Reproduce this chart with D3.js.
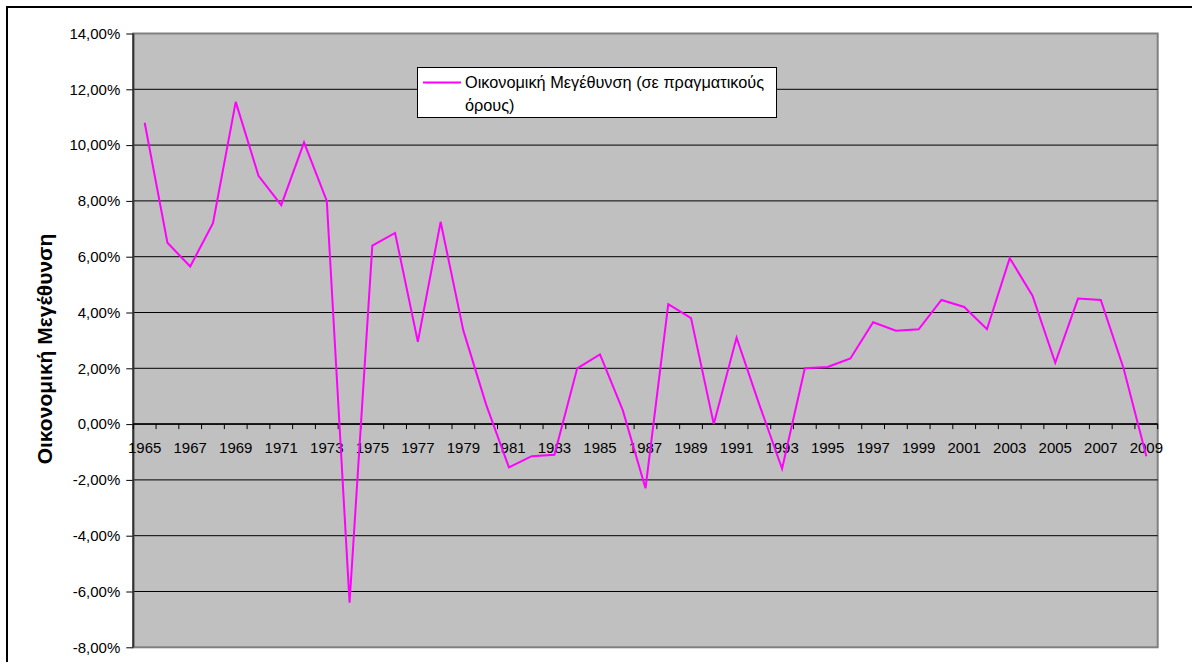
<!DOCTYPE html>
<html>
<head>
<meta charset="utf-8">
<script src="https://cdn.jsdelivr.net/npm/d3@7"></script>
<style>
  body { margin: 0; background: #fff; }
  svg { display: block; font-family: Arial, "Liberation Sans", sans-serif; }
  .axis path { display: none; }
  .axis text { font-size: 15px; fill: #000; }
</style>
</head>
<body>
<script>
// Years on the category axis
var years = d3.range(1965, 2010);

var growth = [10.8, 6.5, 5.65, 7.2, 11.55, 8.9, 7.85, 10.1, 8.0, -6.4,
  6.4, 6.85, 2.95, 7.25, 3.35, 0.7, -1.55, -1.15, -1.1, 2.0,
  2.5, 0.5, -2.3, 4.3, 3.8, 0.0, 3.1, 0.7, -1.6, 2.0,
  2.05, 2.35, 3.65, 3.35, 3.4, 4.45, 4.2, 3.4, 5.95, 4.6,
  2.2, 4.5, 4.45, 2.0, -1.15];

var yTicks = [14, 12, 10, 8, 6, 4, 2, 0, -2, -4, -6, -8];
var seriesName = "Οικονομική Μεγέθυνση (σε πραγματικούς όρους)";
var yTitle = "Οικονομική Μεγέθυνση";

var data = years.map(function(y, i) { return { year: y, value: growth[i] }; });

var W = 1192, H = 662;
var plot = { left: 133.3, right: 1157.7, top: 33.5, bottom: 647.3 };

var locale = d3.formatLocale({
  decimal: ",", thousands: ".", grouping: [3], currency: ["", "€"], minus: "-"
});
var fmt = locale.format(".2f");

var x = d3.scaleBand().domain(years).range([plot.left, plot.right]).padding(0);
var y = d3.scaleLinear().domain([-8, 14]).range([plot.bottom, plot.top]);

var svg = d3.select("body").append("svg")
  .attr("width", W)
  .attr("height", H);

// outer chart frame
svg.append("rect")
  .attr("x", 7).attr("y", 7)
  .attr("width", W + 20).attr("height", H + 20)
  .attr("fill", "#fff")
  .attr("stroke", "#000")
  .attr("stroke-width", 2);

// plot area
svg.append("rect")
  .attr("x", plot.left).attr("y", plot.top)
  .attr("width", plot.right - plot.left)
  .attr("height", plot.bottom - plot.top)
  .attr("fill", "#c0c0c0")
  .attr("stroke", "#808080")
  .attr("stroke-width", 2);

// gridlines
svg.append("g").selectAll("line")
  .data(yTicks.filter(function(t) { return t !== 14 && t !== -8; }))
  .enter().append("line")
  .attr("x1", plot.left).attr("x2", plot.right)
  .attr("y1", function(d) { return y(d); })
  .attr("y2", function(d) { return y(d); })
  .attr("stroke", "#000")
  .attr("stroke-width", 1);

// Y axis
var yAxis = d3.axisLeft(y)
  .tickValues(yTicks)
  .tickSize(7)
  .tickPadding(6)
  .tickFormat(function(d) { return fmt(d) + "%"; });

var gy = svg.append("g")
  .attr("class", "axis")
  .attr("transform", "translate(" + plot.left + ",0)")
  .call(yAxis);
gy.selectAll(".tick line").attr("stroke", "#000");

svg.append("line")
  .attr("x1", plot.left).attr("x2", plot.left)
  .attr("y1", plot.top).attr("y2", plot.bottom)
  .attr("stroke", "#333")
  .attr("stroke-width", 2);

// X axis at zero
var xAxis = d3.axisBottom(x)
  .tickSize(0)
  .tickPadding(18)
  .tickFormat(function(d, i) { return i % 2 === 0 ? d : ""; });

svg.append("g")
  .attr("class", "axis")
  .attr("transform", "translate(0," + y(0) + ")")
  .call(xAxis);

svg.append("line")
  .attr("x1", plot.left).attr("x2", plot.right)
  .attr("y1", y(0)).attr("y2", y(0))
  .attr("stroke", "#000")
  .attr("stroke-width", 1.5);

// category boundary ticks
var bounds = years.map(function(d) { return x(d); }).concat([plot.right]);
svg.append("g").selectAll("line")
  .data(bounds)
  .enter().append("line")
  .attr("x1", function(d) { return d; })
  .attr("x2", function(d) { return d; })
  .attr("y1", y(0)).attr("y2", y(0) + 5)
  .attr("stroke", "#000")
  .attr("stroke-width", 1);

// Y title
svg.append("text")
  .attr("transform", "translate(52,349) rotate(-90)")
  .attr("text-anchor", "middle")
  .style("font-size", "21px")
  .style("font-weight", "bold")
  .text(yTitle);

// series line
var line = d3.line()
  .x(function(d) { return x(d.year) + x.bandwidth() / 2; })
  .y(function(d) { return y(d.value); });

svg.append("path")
  .datum(data)
  .attr("d", line)
  .attr("fill", "none")
  .attr("stroke", "#ff00ff")
  .attr("stroke-width", 2);

// legend
var legend = svg.append("g");
legend.append("rect")
  .attr("x", 417.5).attr("y", 67.5)
  .attr("width", 359).attr("height", 50)
  .attr("fill", "#fff")
  .attr("stroke", "#000")
  .attr("stroke-width", 1);
legend.append("line")
  .attr("x1", 423).attr("x2", 461)
  .attr("y1", 82.5).attr("y2", 82.5)
  .attr("stroke", "#ff00ff")
  .attr("stroke-width", 2);
var words = seriesName.split(" ");
var lt = legend.append("text")
  .attr("x", 465).attr("y", 88)
  .style("font-size", "16.3px");
lt.append("tspan").attr("x", 465).text(words.slice(0, 4).join(" "));
lt.append("tspan").attr("x", 465).attr("dy", 23).text(words.slice(4).join(" "));
</script>
</body>
</html>
